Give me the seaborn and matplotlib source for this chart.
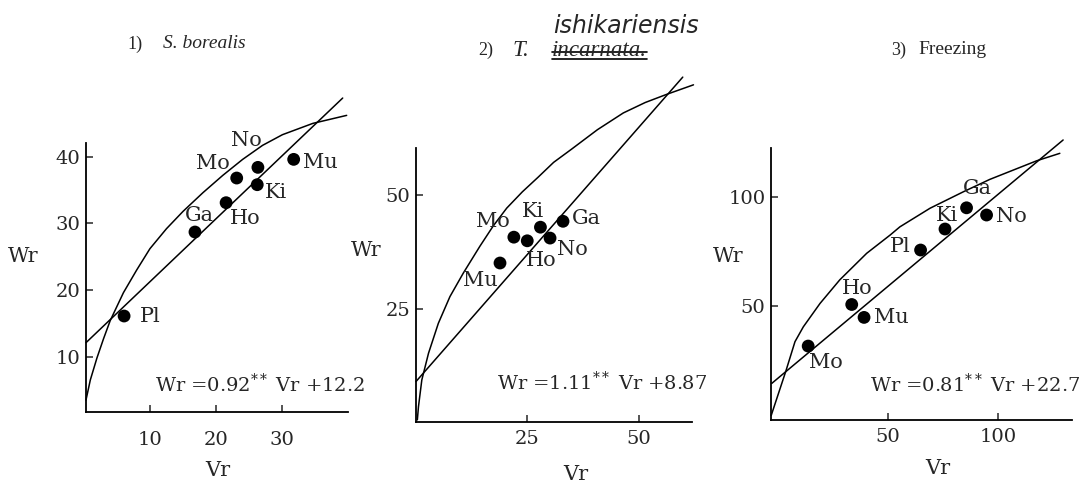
import numpy as np
import pandas as pd
import seaborn as sns
import matplotlib.pyplot as plt

# ---- data ----
# 1) S. borealis
names1 = ['Pl', 'Ga', 'Ho', 'Mo', 'No', 'Ki', 'Mu']
vr1 = [6.1, 16.8, 21.5, 23.1, 26.3, 26.2, 31.7]
wr1 = [16.1, 28.7, 33.1, 36.8, 38.4, 35.8, 39.6]
curve1_vr = [0.35, 1.0, 2.0, 3.0, 4.0, 6.0, 8.0, 10.0, 12.5, 15.0, 18.0, 21.0, 24.0, 27.0, 30.0, 34.6, 39.7]
curve1_wr = [3.5, 6.5, 9.8, 12.7, 15.4, 19.6, 23.0, 26.2, 29.2, 31.8, 34.6, 37.2, 39.6, 41.7, 43.3, 45.0, 46.2]
line1_vr = [0.35, 39.1]
line1_wr = [12.1, 48.8]
eq1 = ('0.92', '12.2')

# 2) T. incarnata (ishikariensis)
names2 = ['Pl', 'Ga', 'Ki', 'No', 'Ho', 'Mo', 'Mu']
vr2 = [46.6, 33.1, 28.05, 30.2, 25.1, 22.1, 19.0]
wr2 = [64.1, 44.3, 43.0, 40.6, 40.0, 40.8, 35.1]
curve2_vr = [0.5, 0.75, 1.5, 3.0, 5.2, 7.8, 10.8, 14.5, 17.5, 20.5, 24.0, 27.5, 31.0, 35.0, 40.8, 46.6, 51.5, 56.3, 62.3]
curve2_wr = [0.5, 3.4, 9.3, 15.2, 21.8, 27.7, 32.9, 38.8, 43.3, 47.2, 50.8, 54.0, 57.3, 60.2, 64.5, 68.2, 70.5, 72.3, 74.4]
line2_vr = [0.2, 59.9]
line2_wr = [8.96, 76.1]
eq2 = ('1.11', '8.87')

# 3) Freezing
names3 = ['Mo', 'Ho', 'Mu', 'Pl', 'Ki', 'Ga', 'No']
vr3 = [13.6, 33.4, 39.0, 64.7, 75.8, 85.6, 94.7]
wr3 = [31.7, 50.7, 44.8, 75.6, 85.2, 94.9, 91.6]
curve3_vr = [-3.2, 3.5, 7.6, 11.4, 19.0, 28.0, 40.2, 50.8, 55.3, 69.0, 84.1, 96.2, 117.5, 128.0]
curve3_wr = [0.0, 20.4, 33.7, 40.5, 51.2, 62.0, 74.1, 82.4, 86.2, 94.7, 102.2, 107.9, 116.4, 119.8]
line3_vr = [-3.0, 129.5]
line3_wr = [14.6, 125.9]
eq3 = ('0.81', '22.7')

# ---- layout ----
W, H = 1088, 483
sns.set_theme(style='white')
plt.rcParams['font.family'] = ['DejaVu Serif']
plt.rcParams['mathtext.fontset'] = 'dejavuserif'

fig = plt.figure(figsize=(W / 100, H / 100), dpi=100)

panels = [
    dict(names=names1, vr=vr1, wr=wr1, cx=curve1_vr, cy=curve1_wr, lx=line1_vr, ly=line1_wr, eq=eq1,
         box=(86, 348, 142.7, 412), xlim=(0.35, 39.9), ylim=(1.7, 42.1),
         xt=[10, 20, 30], yt=[10, 20, 30, 40], eqpos=(0.263, 0.075), xpad=14,
         off={'Pl': (26, 0), 'Ga': (4, 17), 'Ho': (19, -16), 'Mo': (-24, 15),
              'No': (-12, 27), 'Ki': (19, -8), 'Mu': (27, -3)},
         wr_lab=(23, 257), vr_lab=(218, 470)),
    dict(names=names2, vr=vr2, wr=wr2, cx=curve2_vr, cy=curve2_wr, lx=line2_vr, ly=line2_wr, eq=eq2,
         box=(416, 691.7, 148.3, 421.7), xlim=(0.2, 61.9), ylim=(0.1, 60.4),
         xt=[25, 50], yt=[25, 50], eqpos=(0.294, 0.116), xpad=6,
         off={'Pl': (-14, 24), 'Ga': (23, 3), 'Ki': (-7, 16), 'No': (22, -11),
              'Ho': (14, -20), 'Mo': (-21, 16), 'Mu': (-20, -17)},
         wr_lab=(366, 250), vr_lab=(576, 474)),
    dict(names=names3, vr=vr3, wr=wr3, cx=curve3_vr, cy=curve3_wr, lx=line3_vr, ly=line3_wr, eq=eq3,
         box=(771, 1071.7, 148.3, 420), xlim=(-3.3, 133.4), ylim=(-2.1, 122.1),
         xt=[50, 100], yt=[50, 100], eqpos=(0.329, 0.103), xpad=6,
         off={'Mo': (18, -16), 'Ho': (5, 16), 'Mu': (27, 0), 'Pl': (-20, 4),
              'Ki': (2, 14), 'Ga': (11, 19), 'No': (25, -1)},
         wr_lab=(728, 256), vr_lab=(938, 468)),
]

for p in panels:
    l, r, t, b = p['box']
    ax = fig.add_axes([l / W, 1 - b / H, (r - l) / W, (b - t) / H])
    ax.set_facecolor('none')

    curve = pd.DataFrame({'Vr': p['cx'], 'Wr': p['cy']})
    line = pd.DataFrame({'Vr': p['lx'], 'Wr': p['ly']})
    pts = pd.DataFrame({'Vr': p['vr'], 'Wr': p['wr'], 'name': p['names']})

    sns.lineplot(data=curve, x='Vr', y='Wr', sort=False, estimator=None, color='black', lw=1.1, ax=ax)
    sns.lineplot(data=line, x='Vr', y='Wr', sort=False, estimator=None, color='black', lw=1.1, ax=ax)
    for ln in ax.lines:
        ln.set_clip_on(False)
        ln.set_solid_joinstyle('round')
    sns.scatterplot(data=pts, x='Vr', y='Wr', color='black', s=85, edgecolor='none', ax=ax, zorder=3)

    for _, row in pts.iterrows():
        dx, dy = p['off'][row['name']]
        ax.annotate(row['name'], (row['Vr'], row['Wr']), xytext=(dx, dy),
                    textcoords='offset pixels', ha='center', va='center', fontsize=15)

    ax.set_xlim(*p['xlim'])
    ax.set_ylim(*p['ylim'])
    ax.set_xticks(p['xt'])
    ax.set_yticks(p['yt'])
    ax.tick_params(direction='in', length=5, width=1.1, labelsize=14, left=True, bottom=True)
    ax.tick_params(axis='y', pad=4)
    ax.tick_params(axis='x', pad=p['xpad'])
    ax.set_xlabel('')
    ax.set_ylabel('')
    for side in ['top', 'right']:
        ax.spines[side].set_visible(False)
    for side in ['left', 'bottom']:
        ax.spines[side].set_color('black')
        ax.spines[side].set_linewidth(1.3)

    slope, icpt = p['eq']
    ax.text(p['eqpos'][0], p['eqpos'][1], 'Wr =' + slope + r'$^{**}$ Vr +' + icpt,
            transform=ax.transAxes, ha='left', va='baseline', fontsize=14)

    fig.text(p['wr_lab'][0] / W, 1 - p['wr_lab'][1] / H, 'Wr', ha='center', va='center', fontsize=15)
    fig.text(p['vr_lab'][0] / W, 1 - p['vr_lab'][1] / H, 'Vr', ha='center', va='center', fontsize=15)

# ---- panel titles ----
tfam = ['Liberation Serif']
fig.text(135 / W, 1 - 44 / H, '1)', ha='center', va='center', fontsize=13, family=tfam)
fig.text(163 / W, 1 - 43 / H, 'S. borealis', ha='left', va='center', fontsize=14, style='italic', family=tfam)
fig.text(486 / W, 1 - 50 / H, '2)', ha='center', va='center', fontsize=13, family=tfam)
fig.text(512 / W, 1 - 51 / H, 'T.', ha='left', va='center', fontsize=16.5, style='italic', family=tfam)
inc = fig.text(552 / W, 1 - 51 / H, 'incarnata.', ha='left', va='center', fontsize=16.5, style='italic', family=tfam)
fig.text(553 / W, 1 - 26 / H, 'ishikariensis', ha='left', va='center', fontsize=17,
         style='italic', family=['DejaVu Sans'])
fig.text(899 / W, 1 - 50 / H, '3)', ha='center', va='center', fontsize=13, family=tfam)
fig.text(918 / W, 1 - 50 / H, 'Freezing', ha='left', va='center', fontsize=14, family=tfam)

# strike through the printed name
fig.canvas.draw()
bb = inc.get_window_extent().transformed(fig.transFigure.inverted())
ymid = bb.y0 + 0.45 * bb.height
fig.add_artist(plt.Line2D([bb.x0, bb.x1], [ymid, ymid], color='black', lw=1.2))
fig.add_artist(plt.Line2D([bb.x0, bb.x1], [bb.y0 + 0.1 * bb.height] * 2, color='black', lw=1.2))

fig.savefig('out.png', dpi=100)
